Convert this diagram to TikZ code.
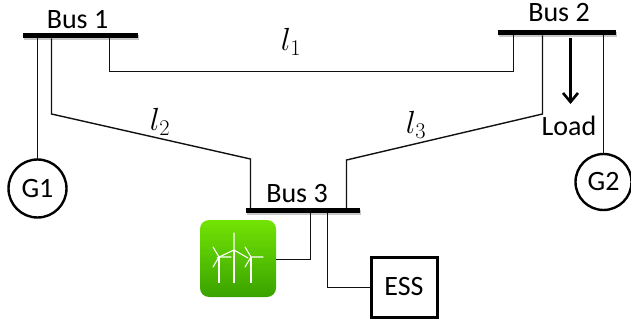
\RequirePackage{fix-cm}
\documentclass[tikz,border=0pt]{standalone}
\usepackage{fontspec}
\setmainfont{Carlito}
\usetikzlibrary{arrows.meta,shadows}
\definecolor{ink}{HTML}{111111}
\definecolor{gtop}{HTML}{72E404}
\definecolor{gbot}{HTML}{3AA200}
\tikzset{
  busbar/.style={fill=black,draw=none,minimum height=5pt,inner sep=0pt,outer sep=0pt,
    drop shadow={shadow xshift=1pt,shadow yshift=-2pt,opacity=.22,fill=black}},
  gen/.style={circle,draw=black,line width=2.4pt,fill=white,minimum size=58pt,inner sep=0pt,outer sep=0pt,font=\lbl},
  essbox/.style={rectangle,draw=black,line width=3pt,fill=white,minimum width=66pt,minimum height=60pt,inner sep=0pt,outer sep=0pt,font=\lbl},
  wire/.style={draw=ink,line width=1.4pt,line join=miter},
  txt/.style={inner sep=0pt,outer sep=0pt,font=\lbl},
  linelbl/.style={inner sep=0pt,outer sep=0pt,font=\fontsize{32}{32}\selectfont},
  windbox/.style={rectangle,rounded corners=9pt,draw=none,top color=gtop,bottom color=gbot,
    minimum width=76pt,minimum height=77pt,inner sep=0pt,outer sep=0pt},
  blade/.style={draw=white,line width=1.1pt,line cap=round},
  tower/.style={draw=white,line width=1.7pt},
  loadarrow/.style={draw=black,line width=3pt,-{Straight Barb[length=9pt,width=15pt,line width=2.6pt]}}
}
\newcommand{\lbl}{\fontsize{28}{28}\selectfont}
\begin{document}
\begin{tikzpicture}[x=1pt,y=-1pt]
\useasboundingbox (0,0) rectangle (631,323);
% nodes
\node[busbar,minimum width=115pt] (b1) at (80.5,36) {};
\node[busbar,minimum width=118pt] (b2) at (557,33) {};
\node[busbar,minimum width=114pt] (b3) at (303,210.5) {};
\node[gen] (g1) at (37.5,188.5) {G1};
\node[gen,minimum size=56pt] (g2) at (603.5,182) {G2};
\node[essbox] (ess) at (404,287) {ESS};
\node[windbox] (wind) at (238,258.5) {};
\node[txt] (t1) at (77.5,20) {Bus 1};
\node[txt] (t2) at (559,13) {Bus 2};
\node[txt] (t3) at (297,194) {Bus 3};
\node[txt] (tl) at (569,126) {Load};
\node[linelbl] (l1) at (291,42) {$l_1$};
\node[linelbl] (l2) at (160,122) {$l_2$};
\node[linelbl] (l3) at (416,125) {$l_3$};
% corner coordinates
\coordinate (a1) at (109.5,71.5);
\coordinate (a2) at (513.5,71.5);
\coordinate (c1) at (51.5,114);
\coordinate (c2) at (250.5,159);
\coordinate (d1) at (542.5,114);
\coordinate (d2) at (346.5,160);
\coordinate (w1) at (310.5,259.5);
\coordinate (e1) at (327.5,287.5);
\coordinate (ar1) at (570.5,38);
\coordinate (ar2) at (570.5,104);
% connectors
\draw[wire] (g1.north) -- (g1.north |- b1.south);
\draw[wire] (g2.north) -- (g2.north |- b2.south);
\draw[wire] (a1 |- b1.south) -- (a1) -- (a2) -- (a2 |- b2.south);
\draw[wire] (c1 |- b1.south) -- (c1) -- (c2) -- (c2 |- b3.north);
\draw[wire] (d1 |- b2.south) -- (d1) -- (d2) -- (d2 |- b3.north);
\draw[wire] (wind.east |- w1) -- (w1) -- (w1 |- b3.south);
\draw[wire] (e1 |- b3.south) -- (e1) -- (ess.west |- e1);
\draw[loadarrow] (ar1) -- (ar2);
% turbines
\draw[tower] (234,250) -- (234,283);
\draw[tower] (219,257) -- (219,283);
\draw[tower] (251,257) -- (251,283);
\draw[blade] (234,250) -- (234,233) (234,250) -- (217,258) (234,250) -- (248,258);
\draw[blade] (219,257) -- (213,247) (219,257) -- (213,267) (219,257) -- (231,257);
\draw[blade] (251,257) -- (245,247) (251,257) -- (245,267) (251,257) -- (263,257);
\end{tikzpicture}
\end{document}
